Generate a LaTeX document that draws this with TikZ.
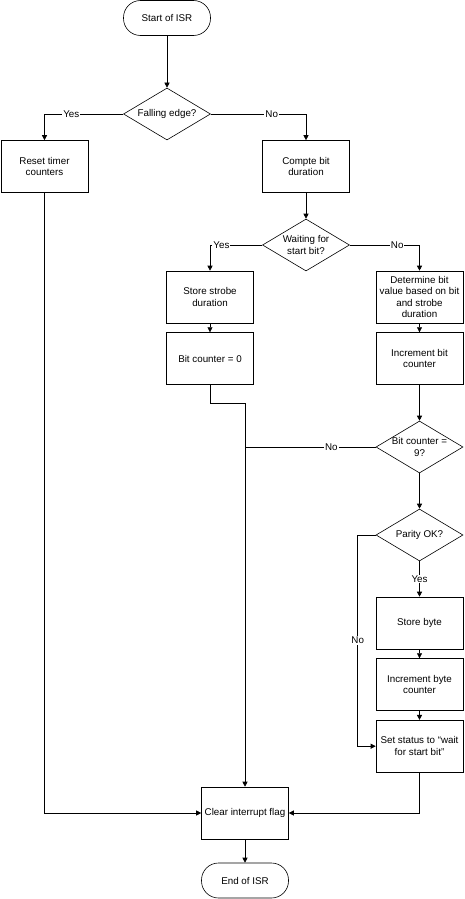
\documentclass[tikz,border=0pt]{standalone}
\usepackage{fontspec}
\setmainfont{Liberation Sans}
\usetikzlibrary{positioning,shapes.geometric,arrows.meta}

\begin{document}
\begin{tikzpicture}[x=1pt,y=1pt,
	font=\fontsize{9.8}{11.6}\selectfont,
	box/.style={draw,rectangle,minimum width=87pt,minimum height=52pt,inner sep=2pt,align=center,line width=0.6pt},
	term/.style={draw,rectangle,rounded corners=17pt,minimum width=87pt,minimum height=35pt,line width=0.6pt},
	dec/.style={draw,diamond,aspect=1.67,minimum width=87pt,minimum height=52pt,inner sep=-1pt,align=center,line width=0.6pt},
	lbl/.style={fill=white,inner sep=1pt},
	flow/.style={-{Triangle[length=5pt,width=5pt]},line width=0.6pt},
	wire/.style={line width=0.6pt}]
	\useasboundingbox (0,0) rectangle (464,-899);

	% Start
	\node[term] (start) at (167,-18) {Start of ISR};
	% Falling edge
	\node[dec] (fall) at (167,-114) {Falling edge?};
	\node[box] (reset) at (44.5,-166.5) {Reset timer\\counters};
	\node[box] (comp) at (306,-166.5) {Compte bit\\duration};
	% Start bit
	\node[dec] (wait) at (306,-245) {Waiting for\\start bit?};
	\node[box] (store) at (210,-297) {Store strobe\\duration};
	\node[box,below=9pt of store] (zero) {Bit counter = 0};
	\node[box] (det) at (419.5,-297) {Determine bit\\value based on bit\\and strobe\\duration};
	\node[box,below=9pt of det] (incb) {Increment bit\\counter};
	% Bit counter / parity
	\node[dec] (cnt) at (419.5,-447) {Bit counter =\\9?};
	\node[dec] (par) at (419.5,-535) {Parity OK?};
	\node[box] (sbyte) at (419.5,-623) {Store byte};
	\node[box,below=9pt of sbyte] (incbyte) {Increment byte\\counter};
	\node[box,below=9pt of incbyte] (setst) {Set status to “wait\\for start bit”};
	% End
	\node[box] (clear) at (245,-813) {Clear interrupt flag};
	\node[term] (isrend) at (245,-880.5) {End of ISR};

	% Pfeile
	\draw[flow] (start) -- (fall);
	\draw[flow] (fall.west) -| node[lbl,pos=.33]{Yes} (reset.north);
	\draw[flow] (fall.east) -| node[lbl,pos=.32]{No} (comp.north);
	\draw[flow] (comp) -- (wait);
	\draw[flow] (wait.west) -| node[lbl,pos=.39]{Yes} (store.north);
	\draw[flow] (wait.east) -| node[lbl,pos=.34]{No} (det.north);
	\draw[flow] (store) -- (zero);
	\draw[flow] (det) -- (incb);
	\draw[flow] (incb) -- (cnt);
	\draw[flow] (zero.south) -- ++(0,-18) -| (clear.north);
	\draw[wire] (cnt.west) -- node[lbl,pos=.34]{No} (cnt.west -| clear.north);
	\draw[flow] (cnt) -- (par);
	\draw[flow] (par) -- node[lbl]{Yes} (sbyte);
	\draw[flow] (par.west) -- ++(-18,0) |- node[lbl,pos=.25]{No} (setst.west);
	\draw[flow] (sbyte) -- (incbyte);
	\draw[flow] (incbyte) -- (setst);
	\draw[flow] (reset.south) |- (clear.west);
	\draw[flow] (setst.south) |- (clear.east);
	\draw[flow] (clear) -- (isrend);
\end{tikzpicture}
\end{document}
